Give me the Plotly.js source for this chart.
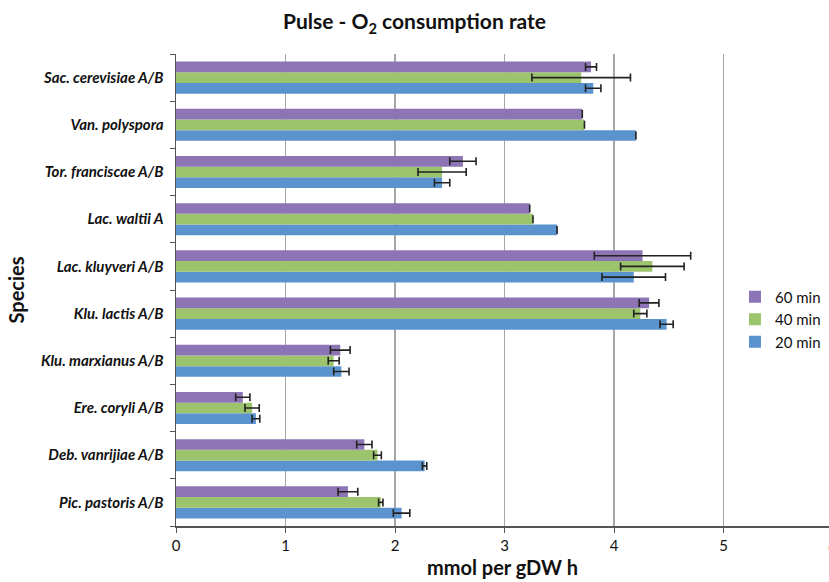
<!DOCTYPE html>
<html>
<head>
<meta charset="utf-8">
<script src="https://cdn.plot.ly/plotly-3.0.1.min.js"></script>
<style>html,body{margin:0;padding:0;background:#fff;}#chart{width:829px;height:582px;}</style>
</head>
<body>
<div id="chart"></div>
<script>
// Species, listed top to bottom as in the chart
const species = [
  "Sac. cerevisiae A/B",
  "Van. polyspora",
  "Tor. franciscae A/B",
  "Lac. waltii A",
  "Lac. kluyveri A/B",
  "Klu. lactis A/B",
  "Klu. marxianus A/B",
  "Ere. coryli A/B",
  "Deb. vanrijiae A/B",
  "Pic. pastoris A/B"
];
const values20 = [3.81, 4.20, 2.43, 3.48, 4.18, 4.48, 1.51, 0.73, 2.27, 2.06];
const errors20 = [0.07, 0, 0.07, 0, 0.29, 0.06, 0.07, 0.035, 0.02, 0.075];
const values40 = [3.70, 3.73, 2.43, 3.26, 4.35, 4.24, 1.44, 0.695, 1.84, 1.87];
const errors40 = [0.45, 0, 0.22, 0, 0.29, 0.06, 0.05, 0.065, 0.035, 0.02];
const values60 = [3.79, 3.71, 2.62, 3.23, 4.26, 4.32, 1.50, 0.61, 1.72, 1.57];
const errors60 = [0.05, 0, 0.12, 0, 0.44, 0.09, 0.09, 0.065, 0.07, 0.09];
const seriesNames = ["20 min", "40 min", "60 min"];
const xTicks = [0, 1, 2, 3, 4, 5];

const colors = ["#5B93CF", "#9CC46C", "#8C74B5"];
const font = "Lato, 'Open Sans', sans-serif";

function mk(name, vals, errs, color) {
  return {
    type: "bar", orientation: "h", name: name,
    y: species, x: vals,
    marker: {color: color, line: {width: 0}},
    error_x: {type: "data", array: errs, visible: true, color: "#222", thickness: 1.6, width: 4},
    hoverinfo: "x+name"
  };
}
const data = [
  mk(seriesNames[0], values20, errors20, colors[0]),
  mk(seriesNames[1], values40, errors40, colors[1]),
  mk(seriesNames[2], values60, errors60, colors[2])
];

const layout = {
  width: 829, height: 582,
  margin: {l: 176, r: 0, t: 54, b: 56, autoexpand: false},
  paper_bgcolor: "#fff", plot_bgcolor: "#fff",
  font: {family: font, color: "#111"},
  barmode: "group", bargap: 0.32, bargroupgap: 0,
  showlegend: true,
  title: {text: "Pulse - O<sub>2</sub> consumption rate", font: {family: font, size: 21, color: "#111", weight: "bold"}, x: 0.5, xanchor: "center", y: 0.962, yanchor: "middle"},
  xaxis: {
    range: [0, 5.963], tickvals: xTicks, ticktext: xTicks.map(String),
    showgrid: true, gridcolor: "#A6A6A6", gridwidth: 1.5,
    zeroline: false, showline: true, linecolor: "#555", linewidth: 1.5,
    ticks: "outside", ticklen: 5, tickcolor: "#555",
    tickfont: {size: 15, family: font, color: "#111"},
    title: {text: "mmol per gDW h", font: {size: 20, family: font, weight: "bold", color: "#111"}, standoff: 8},
    automargin: false, fixedrange: true
  },
  yaxis: {
    type: "category", categoryorder: "array", categoryarray: species.slice().reverse(),
    showgrid: false, zeroline: false, showline: true, linecolor: "#555", linewidth: 1.5,
    ticks: "outside", ticklen: 5, tickcolor: "#555", tickson: "boundaries",
    ticklabelstandoff: 8,
    tickfont: {size: 15, family: font, color: "#111", style: "italic", weight: "bold"},
    title: {text: "Species", font: {size: 20, family: font, weight: "bold", color: "#111"}, standoff: 11},
    automargin: false, fixedrange: true
  },
  legend: {
    x: 0.856, y: 0.52, xanchor: "left", yanchor: "top",
    traceorder: "reversed", font: {size: 15, family: font, color: "#111"},
    bgcolor: "rgba(255,255,255,0)", itemwidth: 30, tracegroupgap: 4
  },
  annotations: [{
    xref: "paper", yref: "paper", x: 1.0046, y: 0, yshift: -20,
    text: "6", showarrow: false, font: {size: 15, family: font, color: "#111"},
    xanchor: "center", yanchor: "middle"
  }]
};

Plotly.newPlot("chart", data, layout, {displayModeBar: false, staticPlot: true});
</script>
</body>
</html>
